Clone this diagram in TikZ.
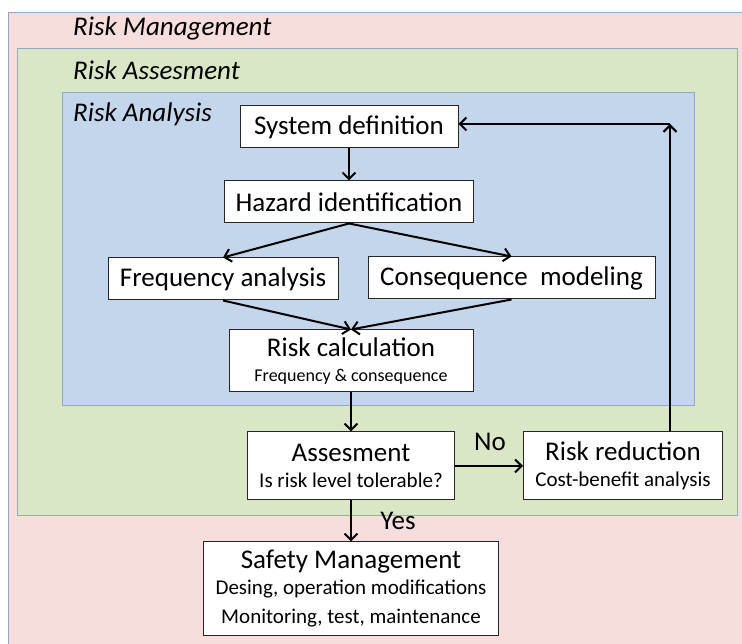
\documentclass[tikz,border=0pt]{standalone}
\usepackage{fontspec}
\setmainfont{Carlito}
\usepackage{xcolor}
\usepackage{tikz}
\usetikzlibrary{arrows.meta,positioning}

\definecolor{mgmtpink}{HTML}{F7DEDD}
\definecolor{assessgreen}{HTML}{DAE7C7}
\definecolor{analysisblue}{HTML}{C4D6EB}
\definecolor{framegray}{HTML}{8FA9CB}
\newcommand{\boxbig}{\fontsize{27}{30}\selectfont}
\newcommand{\boxmid}{\fontsize{21}{24}\selectfont}
\newcommand{\boxsmall}{\fontsize{18}{21}\selectfont}

\begin{document}
\begin{tikzpicture}[
            x=1pt, y=1pt,
            zone/.style={draw=framegray, line width=0.8pt},
            zonelabel/.style={font=\boxbig\itshape, anchor=west, inner sep=0pt},
            stepbox/.style={rectangle, draw=black!85, fill=white, line width=1pt, align=center, font=\boxbig, inner sep=2pt, minimum height=42pt},
            answer/.style={font=\boxbig, inner sep=0pt},
            arrow/.style={line width=2pt, -{Straight Barb[length=6.5pt,width=13pt]}}
        ]
        \clip (0,0) rectangle (742,644);
        
        \fill[white] (0,0) rectangle (742,644);
        \draw[zone, fill=mgmtpink] (8,632) rectangle (760,-10);
        \draw[zone, fill=assessgreen] (17,596) rectangle (737,129);
        \draw[zone, fill=analysisblue] (62,552) rectangle (694,239);
        
        \node[zonelabel] (mgmt_label) at (73,616) {Risk Management};
        \node[zonelabel] (assess_label) at (73,574) {Risk Assesment};
        \node[zonelabel] (analysis_label) at (73,530) {Risk Analysis};
        
        \node[stepbox, minimum width=218pt] (sysdef) at (349,517) {System definition};
        \node[stepbox, minimum width=249pt, below=32pt of sysdef] (hazard) {Hazard identification};
        
        \node[stepbox, minimum width=230pt] (freq) at (223,365) {Frequency analysis};
        \node[stepbox, minimum width=287pt] (conseq) at (511.5,366) {Consequence\ \ modeling};
        
        \node[stepbox, minimum width=244pt, minimum height=62pt] (calc) at (351,283) {Risk calculation\\[-5pt]{\boxsmall Frequency \& consequence}};
        
        \node[stepbox, minimum width=207pt, minimum height=68pt] (assess) at (351,178) {Assesment\\[-4pt]{\boxmid Is risk level tolerable?}};
        \node[stepbox, minimum width=199pt, minimum height=68pt, right=68pt of assess] (reduce) {Risk reduction\\[-4pt]{\boxmid Cost-benefit analysis}};
        
        \node[stepbox, minimum width=295pt, minimum height=94pt, below=41pt of assess] (safety) {Safety Management\\[-4pt]{\boxmid Desing, operation modifications}\\[-1pt]{\boxmid Monitoring, test, maintenance}};
        
        \node[answer] (no_label) at (490,202) {No};
        \node[answer] (yes_label) at (398,123) {Yes};
        
        \coordinate (corner) at (670,520);
        
        \draw[arrow] (sysdef) -- (hazard);
        \draw[arrow] (hazard.south) -- (freq.north);
        \draw[arrow] (hazard.south) -- (conseq.north);
        \draw[arrow] (freq.south) -- (calc.north);
        \draw[arrow] (conseq.south) -- (calc.north);
        \draw[arrow] (calc) -- (assess);
        \draw[arrow] (assess) -- (reduce);
        \draw[arrow] (assess) -- (safety);
        \draw[arrow] (reduce.north -| corner) -- (corner);
        \draw[arrow] (corner) -- (sysdef.east |- corner);
        
        \end{tikzpicture}
\end{document}
